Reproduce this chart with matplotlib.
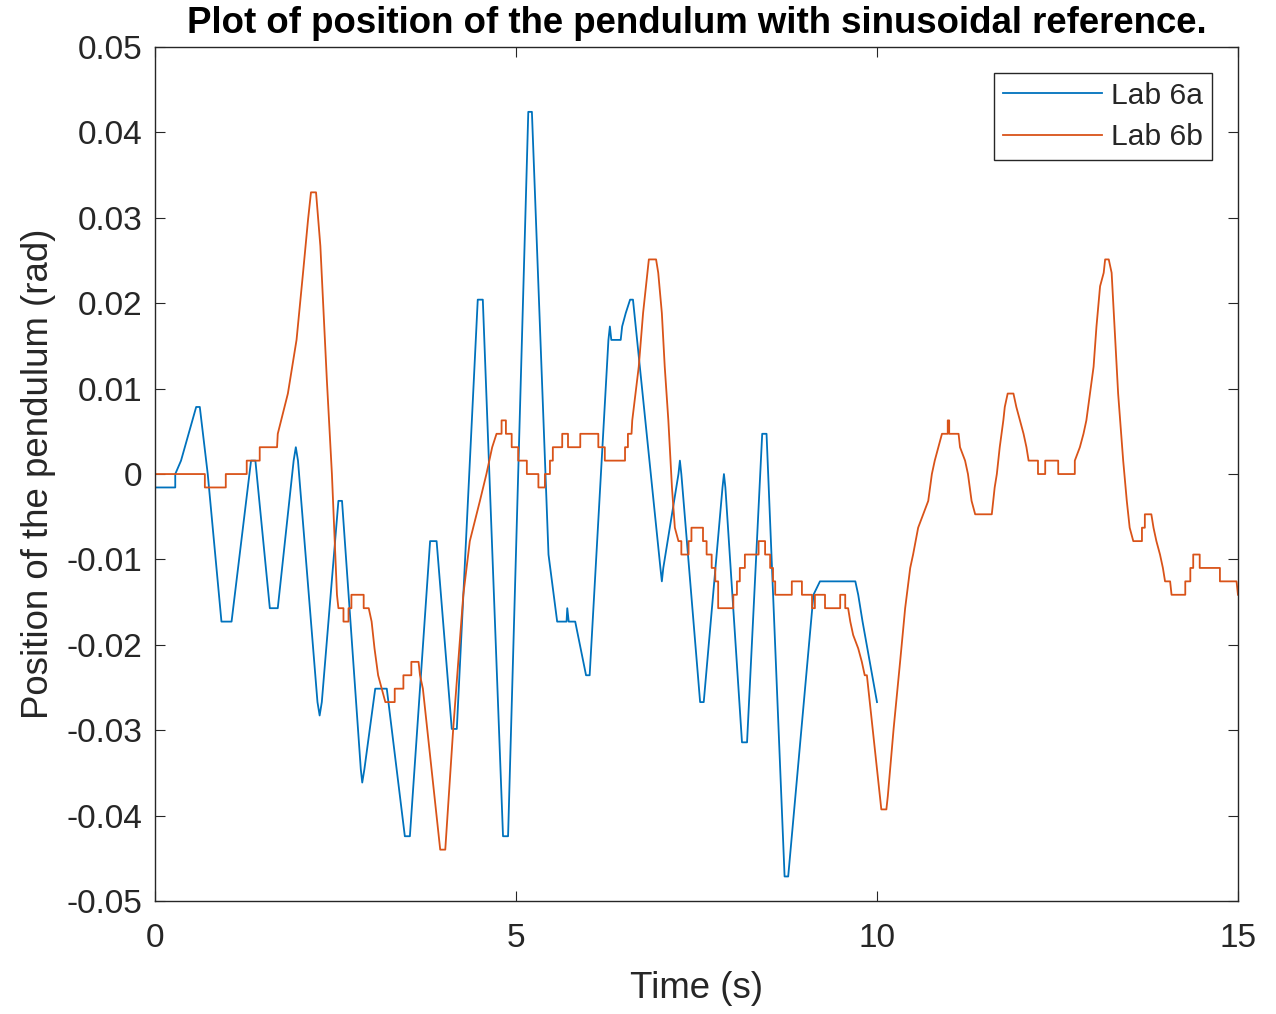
import numpy as np
import matplotlib
matplotlib.use("Agg")
import matplotlib.pyplot as plt

# encoder resolution: 4000 counts per revolution
RAD_PER_COUNT = 2 * np.pi / 4000

# Lab 6a: time (s) and pendulum position in encoder counts
lab6a_t = [0.00, 0.28, 0.28, 0.36, 0.57, 0.62, 0.73, 0.92, 1.06, 1.33, 1.39,
           1.59, 1.70, 1.92, 1.95, 1.98, 2.25, 2.28, 2.31, 2.54, 2.59, 2.85,
           2.87, 2.90, 3.05, 3.21, 3.46, 3.53, 3.81, 3.90, 4.11, 4.18, 4.47,
           4.54, 4.82, 4.89, 5.17, 5.22, 5.45, 5.57, 5.70, 5.71, 5.73, 5.82,
           5.97, 6.02, 6.28, 6.30, 6.32, 6.45, 6.47, 6.52, 6.58, 6.62, 7.00,
           7.02, 7.04, 7.25, 7.27, 7.29, 7.55, 7.60, 7.86, 7.88, 7.90, 8.13,
           8.20, 8.41, 8.47, 8.72, 8.77, 9.12, 9.21, 9.70, 9.74, 9.80, 9.90,
           10.00]
lab6a_counts = [-1, -1, 0, 1, 5, 5, 0, -11, -11, 1, 1,
                -10, -10, 1, 2, 1, -17, -18, -17, -2, -2, -22,
                -23, -22, -16, -16, -27, -27, -5, -5, -19, -19, 13,
                13, -27, -27, 27, 27, -6, -11, -11, -10, -11, -11,
                -15, -15, 10, 11, 10, 10, 11, 12, 13, 13, -7,
                -8, -7, 0, 1, 0, -17, -17, -1, 0, -1, -20,
                -20, 3, 3, -30, -30, -9, -8, -8, -9, -11, -14,
                -17]

# Lab 6b: time (s) and pendulum position in encoder counts
lab6b_t = [0.00, 0.69, 0.69, 0.98, 0.98, 1.27, 1.27, 1.45, 1.45, 1.69,
           1.70, 1.84, 1.96, 2.05, 2.12, 2.16, 2.23, 2.29, 2.38, 2.45,
           2.52, 2.54, 2.61, 2.61, 2.68, 2.68, 2.72, 2.72, 2.89, 2.89,
           2.96, 3.00, 3.04, 3.09, 3.14, 3.19, 3.32, 3.32, 3.44, 3.44,
           3.55, 3.55, 3.65, 3.67, 3.71, 3.95, 4.02, 4.13, 4.27, 4.36,
           4.50, 4.59, 4.63, 4.67, 4.73, 4.80, 4.80, 4.86, 4.86, 4.94,
           4.94, 5.03, 5.03, 5.15, 5.15, 5.31, 5.31, 5.40, 5.40, 5.47,
           5.47, 5.51, 5.51, 5.64, 5.64, 5.72, 5.72, 5.89, 5.89, 6.14,
           6.14, 6.23, 6.23, 6.51, 6.51, 6.55, 6.55, 6.60, 6.61, 6.70,
           6.76, 6.84, 6.94, 6.97, 7.02, 7.06, 7.11, 7.16, 7.20, 7.25,
           7.29, 7.29, 7.39, 7.39, 7.43, 7.43, 7.59, 7.59, 7.64, 7.64,
           7.71, 7.71, 7.76, 7.76, 7.80, 7.80, 8.01, 8.01, 8.06, 8.06,
           8.10, 8.10, 8.17, 8.17, 8.36, 8.36, 8.45, 8.45, 8.52, 8.52,
           8.56, 8.56, 8.59, 8.59, 8.82, 8.82, 8.96, 8.96, 9.10, 9.10,
           9.14, 9.14, 9.28, 9.28, 9.49, 9.49, 9.56, 9.56, 9.60, 9.63,
           9.67, 9.74, 9.79, 9.83, 9.86, 10.04, 10.06, 10.13, 10.15, 10.23,
           10.32, 10.39, 10.46, 10.50, 10.57, 10.64, 10.71, 10.76, 10.80, 10.85,
           10.90, 10.98, 10.98, 11.00, 11.00, 11.13, 11.15, 11.22, 11.26, 11.31,
           11.36, 11.59, 11.61, 11.63, 11.66, 11.70, 11.75, 11.77, 11.81, 11.89,
           11.93, 11.98, 12.03, 12.07, 12.10, 12.23, 12.23, 12.33, 12.33, 12.51,
           12.51, 12.74, 12.74, 12.81, 12.86, 12.90, 12.95, 13.00, 13.04, 13.09,
           13.14, 13.16, 13.21, 13.25, 13.30, 13.34, 13.41, 13.46, 13.50, 13.55,
           13.67, 13.67, 13.71, 13.71, 13.80, 13.83, 13.87, 13.92, 13.96, 13.99,
           14.06, 14.08, 14.27, 14.27, 14.34, 14.34, 14.38, 14.38, 14.47, 14.47,
           14.75, 14.75, 14.98, 15.00]
lab6b_counts = [0, 0, -1, -1, 0, 0, 1, 1, 2, 2,
                3, 6, 10, 15, 19, 21, 21, 17, 7, 0,
                -9, -10, -10, -11, -11, -10, -10, -9, -9, -10,
                -10, -11, -13, -15, -16, -17, -17, -16, -16, -15,
                -15, -14, -14, -15, -16, -28, -28, -19, -9, -5,
                -2, 0, 1, 2, 3, 3, 4, 4, 3, 3,
                2, 2, 1, 1, 0, 0, -1, -1, 0, 0,
                1, 1, 2, 2, 3, 3, 2, 2, 3, 3,
                2, 2, 1, 1, 2, 2, 3, 3, 4, 8,
                12, 16, 16, 15, 12, 8, 4, -1, -4, -5,
                -5, -6, -6, -5, -5, -4, -4, -5, -5, -6,
                -6, -7, -7, -8, -8, -10, -10, -9, -9, -8,
                -8, -7, -7, -6, -6, -5, -5, -6, -6, -7,
                -7, -8, -8, -9, -9, -8, -8, -9, -9, -10,
                -10, -9, -9, -10, -10, -9, -9, -10, -10, -11,
                -12, -13, -14, -15, -15, -24, -25, -25, -24, -19,
                -14, -10, -7, -6, -4, -3, -2, 0, 1, 2,
                3, 3, 4, 4, 3, 3, 2, 1, 0, -2,
                -3, -3, -2, -1, 0, 2, 4, 5, 6, 6,
                5, 4, 3, 2, 1, 1, 0, 0, 1, 1,
                0, 0, 1, 2, 3, 4, 6, 8, 11, 14,
                15, 16, 16, 15, 10, 6, 1, -2, -4, -5,
                -5, -4, -4, -3, -3, -4, -5, -6, -7, -8,
                -8, -9, -9, -8, -8, -7, -7, -6, -6, -7,
                -7, -8, -8, -9]

plt.rcParams["font.family"] = ["Liberation Sans", "DejaVu Sans"]
text_col = "#262626"

fig = plt.figure(figsize=(12.76, 10.14), dpi=100)
ax = fig.add_axes([0.1215, 0.1114, 0.8487, 0.8422])

ax.plot(lab6a_t, np.array(lab6a_counts) * RAD_PER_COUNT, color="#0072BD",
        lw=1.3, label="Lab 6a")
ax.plot(lab6b_t, np.array(lab6b_counts) * RAD_PER_COUNT, color="#D95319",
        lw=1.3, label="Lab 6b")

ax.set_xlim(0, 15)
ax.set_ylim(-0.05, 0.05)
ax.set_xticks([0, 5, 10, 15])
yt = np.round(np.arange(-0.05, 0.051, 0.01), 2)
ax.set_yticks(yt)
ax.set_yticklabels(["0" if v == 0 else f"{v:g}" for v in yt])

ax.tick_params(direction="in", length=7.5, width=0.8, top=True, right=True,
               labelsize=24, colors=text_col, pad=9)
ax.tick_params(axis="x", pad=16)
for s in ax.spines.values():
    s.set_color(text_col)
    s.set_linewidth(1.0)

ax.set_xlabel("Time (s)", fontsize=26.4, color=text_col, labelpad=12)
ax.set_ylabel("Position of the pendulum (rad)", fontsize=26.4, color=text_col,
              labelpad=8)
ax.set_title("Plot of position of the pendulum with sinusoidal reference.",
             fontsize=26.4, fontweight="bold", pad=10)

leg = ax.legend(loc="upper right", fontsize=21.6, fancybox=False,
                framealpha=1, edgecolor=text_col, handlelength=3.3,
                handletextpad=0.3, borderpad=0.3, labelspacing=0.45,
                borderaxespad=0.85)
leg.get_frame().set_linewidth(1.0)
for t in leg.get_texts():
    t.set_color(text_col)

fig.savefig("out.png", dpi=100)
